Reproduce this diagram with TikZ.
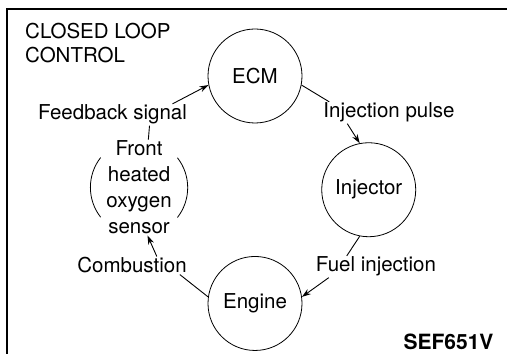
\documentclass[tikz,border=0pt]{standalone}
\usepackage{fontspec}
\setmainfont{TeX Gyre Heros}
\usetikzlibrary{arrows.meta}
\usetikzlibrary{positioning}
\tikzset{
  loop style/.style={
    x=1pt,
    y=1pt,
    font=\fontsize{20.5}{26}\selectfont,
  },
  block node/.style={
    draw,
    circle,
    line width=0.8pt,
    inner sep=0pt,
    minimum size=94pt
  },
  sensor ring/.style={
    circle,
    inner sep=0pt,
    minimum size=97pt
  },
  ring arc/.style={
    draw,
    line width=0.8pt,
  },
  signal label/.style={
    inner sep=1pt,
    anchor=base
  },
  flow line/.style={
    draw,
    line width=0.9pt,
  },
  flow arrow/.style={
    flow line,
    -{Stealth[length=9pt,width=6pt]}
  },
}
\tikzset{
  border line/.style={
    draw,
    line width=1.4pt,
  },
  left border/.style={
    border line,
    line width=2pt,
  },
}

\begin{document}
\begin{tikzpicture}[loop style]
  \useasboundingbox (0,0) rectangle (507,362);
  % frame
  \draw[left border] (7,8) -- (7,353);
  \draw[border line] (6,353) -- (507,353);
  \node[anchor=north west, align=left, inner sep=0pt,
    font=\fontsize{20.5}{24}\selectfont] (title) at (25,338.7)
    {CLOSED LOOP\\CONTROL};
  % the loop
  \node[block node] (ecm) at (255,286) {ECM};
  \node[block node] (injector) [below right=46.7pt and 46.7pt of ecm] {Injector};
  \node[block node] (engine) [below left=46.7pt and 46.7pt of injector] {Engine};
  \node[sensor ring] (sensor) [above left=48pt and 48pt of engine] {};
  \node[align=center, inner sep=0pt] (sensortxt) at (sensor)
    {Front\\heated\\oxygen\\sensor};
  \draw[ring arc] (sensor.142) arc[start angle=142, end angle=218, radius=48.5pt];
  \draw[ring arc] (sensor.-38) arc[start angle=-38, end angle=38, radius=48.5pt];
  % signals
  \node[signal label] (fbsig) at (112.5,242) {Feedback signal};
  \node[signal label] (injpulse) at (389,244) {Injection pulse};
  \node[signal label] (fuelinj) at (376,90) {Fuel injection};
  \node[signal label] (combust) at (132,89) {Combustion};
  \draw[flow line] (sensor.79) -- ([xshift=37pt]fbsig.south);
  \draw[flow arrow] ([xshift=60pt]fbsig.north) -- (ecm.191);
  \draw[flow line] (ecm.-11) -- ([xshift=7pt]injpulse.north west);
  \draw[flow arrow] ([xshift=25pt]injpulse.south west) -- (injector.101);
  \draw[flow line] (injector.259) -- ([xshift=32pt]fuelinj.north west);
  \draw[flow arrow] ([xshift=14pt]fuelinj.south west) -- (engine.8);
  \draw[flow line] (engine.172) -- ([xshift=-8pt]combust.south east);
  \draw[flow arrow] ([xshift=-31pt]combust.north east) -- (sensor.280);
  \node[anchor=base east, font=\bfseries\fontsize{21}{25}\selectfont] (code)
    at (497,12) {SEF651V};
\end{tikzpicture}
\end{document}
